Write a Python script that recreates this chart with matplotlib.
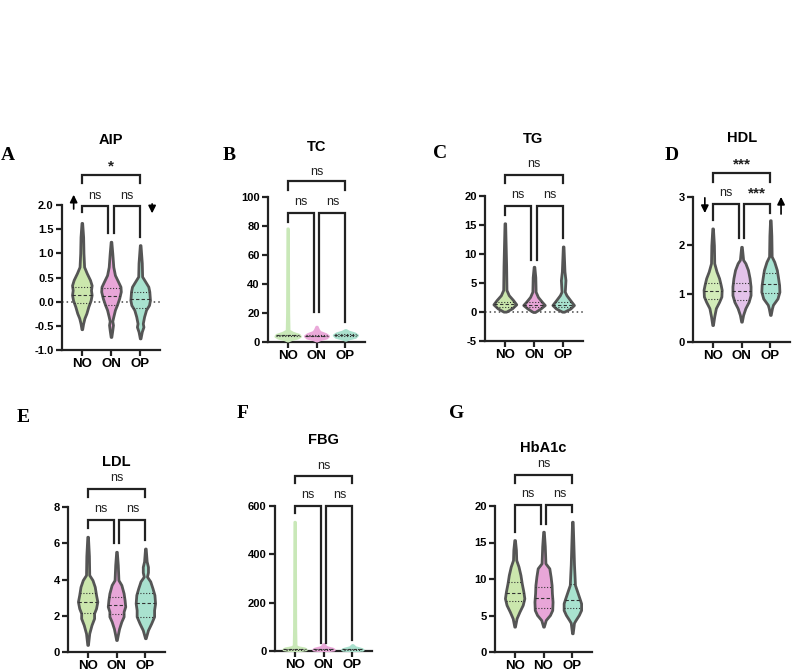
import numpy as np
import matplotlib
matplotlib.use("Agg")
import matplotlib.pyplot as plt

# -----------------------------
# Data
# -----------------------------
groups = ["NO", "ON", "OP"]
groups_hba1c = ["NO", "NO", "OP"]          # as printed in the original

# significance labels: NO-ON, ON-OP, NO-OP
sig_aip = ["ns", "ns", "*"]
sig_tc = ["ns", "ns", "ns"]
sig_tg = ["ns", "ns", "ns"]
sig_hdl = ["ns", "***", "***"]
sig_ldl = ["ns", "ns", "ns"]
sig_fbg = ["ns", "ns", "ns"]
sig_hba1c = ["ns", "ns", "ns"]

# violin outlines as (value, half width) pairs
aip_no = [(-0.57, 0.01), (-0.45, 0.04), (-0.34, 0.08), (-0.24, 0.14), (-0.10, 0.20), (0.03, 0.27),
          (0.14, 0.30), (0.24, 0.28), (0.34, 0.30), (0.45, 0.25), (0.59, 0.15), (0.72, 0.07),
          (1.00, 0.05), (1.34, 0.04), (1.63, 0.01)]
aip_on = [(-0.73, 0.01), (-0.59, 0.04), (-0.48, 0.06), (-0.40, 0.04), (-0.31, 0.07), (-0.17, 0.12),
          (-0.07, 0.18), (0.07, 0.25), (0.21, 0.30), (0.31, 0.29), (0.41, 0.22), (0.55, 0.12),
          (0.72, 0.07), (1.00, 0.04), (1.24, 0.01)]
aip_op = [(-0.76, 0.01), (-0.62, 0.05), (-0.52, 0.10), (-0.45, 0.08), (-0.31, 0.12), (-0.17, 0.18),
          (-0.07, 0.27), (0.03, 0.30), (0.21, 0.28), (0.31, 0.25), (0.41, 0.16), (0.52, 0.06),
          (0.80, 0.05), (1.17, 0.01)]
aip_quart = [(-0.03, 0.13, 0.31), (-0.07, 0.12, 0.28), (-0.14, 0.05, 0.19)]

tc_no = [(1.0, 0.01), (2.0, 0.12), (3.0, 0.30), (4.0, 0.38), (5.0, 0.35), (6.5, 0.15),
         (8.0, 0.03), (20.0, 0.02), (78.4, 0.01)]
tc_on = [(1.0, 0.01), (2.0, 0.12), (3.0, 0.30), (4.2, 0.36), (5.5, 0.28), (7.0, 0.10),
         (8.5, 0.05), (10.6, 0.01)]
tc_op = [(1.5, 0.01), (2.5, 0.12), (3.5, 0.30), (4.8, 0.36), (6.0, 0.28), (7.2, 0.10),
         (8.3, 0.01)]
tc_quart = [(3.9, 4.5, 5.1), (3.8, 4.4, 5.0), (4.2, 4.8, 5.4)]

tg_no = [(0.06, 0.04), (0.63, 0.22), (1.32, 0.35), (2.07, 0.25), (2.9, 0.12), (3.8, 0.05),
         (8.0, 0.04), (15.3, 0.01)]
tg_on = [(0.0, 0.03), (0.6, 0.20), (1.2, 0.33), (1.7, 0.25), (2.6, 0.12), (3.5, 0.05),
         (6.0, 0.04), (7.8, 0.01)]
tg_op = [(0.05, 0.03), (0.6, 0.22), (1.2, 0.33), (2.0, 0.22), (2.9, 0.10), (3.5, 0.05),
         (5.5, 0.07), (7.0, 0.04), (11.3, 0.01)]
tg_quart = [(0.9, 1.3, 1.8), (0.8, 1.2, 1.7), (0.8, 1.2, 1.8)]

hdl_no = [(0.35, 0.01), (0.53, 0.05), (0.70, 0.10), (0.83, 0.20), (0.94, 0.27), (1.08, 0.28),
          (1.18, 0.25), (1.32, 0.20), (1.46, 0.12), (1.63, 0.05), (2.00, 0.04), (2.35, 0.01)]
hdl_on = [(0.42, 0.01), (0.56, 0.05), (0.70, 0.12), (0.83, 0.22), (0.97, 0.28), (1.15, 0.28),
          (1.32, 0.25), (1.49, 0.20), (1.63, 0.12), (1.70, 0.05), (1.97, 0.01)]
hdl_op = [(0.56, 0.01), (0.70, 0.05), (0.77, 0.08), (0.90, 0.22), (1.04, 0.28), (1.18, 0.27),
          (1.32, 0.24), (1.49, 0.20), (1.66, 0.12), (1.77, 0.04), (2.20, 0.03), (2.52, 0.01)]
hdl_quart = [(0.88, 1.05, 1.22), (0.87, 1.06, 1.22), (1.02, 1.19, 1.42)]

ldl_no = [(0.39, 0.01), (1.03, 0.05), (1.49, 0.12), (1.86, 0.20), (2.14, 0.20), (2.41, 0.26),
          (2.78, 0.30), (3.15, 0.26), (3.60, 0.22), (3.97, 0.15), (4.25, 0.05), (5.3, 0.04),
          (6.36, 0.01)]
ldl_on = [(0.66, 0.01), (0.94, 0.04), (1.29, 0.08), (1.68, 0.15), (1.96, 0.22), (2.23, 0.22),
          (2.51, 0.27), (2.87, 0.25), (3.24, 0.22), (3.70, 0.15), (3.97, 0.06), (4.8, 0.04),
          (5.53, 0.01)]
ldl_op = [(0.76, 0.01), (1.21, 0.08), (1.58, 0.18), (1.96, 0.27), (2.32, 0.27), (2.69, 0.30),
          (3.15, 0.28), (3.52, 0.22), (3.90, 0.15), (4.16, 0.05), (4.40, 0.08), (4.70, 0.08),
          (5.0, 0.04), (5.71, 0.01)]
ldl_quart = [(2.14, 2.78, 3.27), (2.10, 2.59, 3.02), (1.92, 2.72, 3.24)]

fbg_no = [(0.5, 0.01), (3.0, 0.15), (7.0, 0.35), (11.0, 0.30), (16.0, 0.10), (22.0, 0.03),
          (100.0, 0.02), (535.0, 0.01)]
fbg_on = [(0.5, 0.01), (3.0, 0.15), (6.0, 0.32), (10.0, 0.28), (16.0, 0.10), (22.0, 0.04),
          (29.0, 0.01)]
fbg_op = [(0.5, 0.01), (3.0, 0.15), (6.0, 0.32), (10.0, 0.25), (16.0, 0.08), (25.0, 0.01)]
fbg_quart = [(5.5, 7.0, 9.0), (5.0, 6.5, 8.5), (5.0, 6.5, 8.5)]

hba1c_no = [(3.47, 0.01), (4.61, 0.06), (5.53, 0.15), (6.44, 0.25), (7.35, 0.30), (8.27, 0.27),
            (9.41, 0.22), (10.55, 0.18), (11.7, 0.12), (12.6, 0.05), (14.0, 0.04), (15.34, 0.01)]
hba1c_on = [(3.47, 0.01), (4.38, 0.07), (5.07, 0.20), (5.75, 0.27), (6.89, 0.28), (8.04, 0.26),
            (9.18, 0.25), (10.32, 0.22), (11.46, 0.18), (12.15, 0.06), (14.5, 0.04), (16.48, 0.01)]
hba1c_op = [(2.56, 0.01), (4.0, 0.05), (4.38, 0.10), (5.07, 0.20), (5.75, 0.27), (6.67, 0.27),
            (7.35, 0.22), (8.27, 0.15), (9.18, 0.08), (12.0, 0.05), (15.0, 0.03), (17.85, 0.01)]
hba1c_quart = [(6.99, 8.12, 9.63), (6.00, 7.45, 8.95), (5.98, 7.12, 9.25)]

# -----------------------------
# Style
# -----------------------------
W, H = 794, 671
DARK = "#222222"
OUTLINE = "#555555"
FILL = ["#cbe7ad", "#e8a6d8", "#a9e2cf"]
FILL_HDL = ["#d3ecb9", "#e4c3ea", "#a9e4d3"]
FILL_PALE = ["#c9e8b8", "#eaa9d9", "#a9e0cd"]   # TC / FBG: outline same as fill
WIDTH_SCALE = 1.12

plt.rcParams["font.family"] = ["Liberation Sans", "DejaVu Sans"]

fig = plt.figure(figsize=(W / 100, H / 100), dpi=100, facecolor="white")


def px_axes(l, r, t, b):
    return fig.add_axes([l / W, (H - b) / H, (r - l) / W, (b - t) / H])


def fig_text(x, y, s, **kw):
    fig.text(x / W, (H - y) / H, s, ha="center", va="center", **kw)


def draw_violin(ax, x, prof, quart, face, edge):
    ys = np.array([p[0] for p in prof])
    ws = np.array([p[1] for p in prof]) * WIDTH_SCALE
    ax.fill_betweenx(ys, x - ws, x + ws, facecolor=face,
                     edgecolor=edge, linewidth=2.0, joinstyle="round", zorder=3)
    for k, q in enumerate(quart):
        w = np.interp(q, ys, ws)
        ls = (0, (3, 2)) if k == 1 else (0, (1, 1.6))
        ax.plot([x - w, x + w], [q, q], color="#333333", lw=0.8, ls=ls, zorder=4)


def bracket(ax, x1, x2, y, leg1, leg2):
    ax.plot([x1, x1, x2, x2], [leg1, y, y, leg2], color=DARK, lw=1.6,
            clip_on=False, solid_joinstyle="miter", zorder=5)


panels = [
    dict(letter="A", title="AIP", box=(62, 160, 205, 350), ylim=(-1.0, 2.0), step=0.5, fmt="{:.1f}",
         prof=[aip_no, aip_on, aip_op], quart=aip_quart, sig=sig_aip, labels=groups,
         low=(1.98, 1.85, 1.42, 1.34, 2.19), top=(2.62, 2.45, 2.80), zero=True,
         fill=FILL, edge=None, letter_xy=(8, 155), title_xy=(111, 140)),
    dict(letter="B", title="TC", box=(268, 365, 197, 342), ylim=(0, 100), step=20, fmt="{:.0f}",
         prof=[tc_no, tc_on, tc_op], quart=tc_quart, sig=sig_tc, labels=groups,
         low=(88.8, 83, 21, 14, 96.7), top=(111, 105, 117.5), zero=False,
         fill=FILL_PALE, edge="same", letter_xy=(229, 155), title_xy=(317, 147)),
    dict(letter="C", title="TG", box=(485, 583, 196, 341), ylim=(-5, 20), step=5, fmt="{:.0f}",
         prof=[tg_no, tg_on, tg_op], quart=tg_quart, sig=sig_tg, labels=groups,
         low=(18.3, 16.7, 9.0, 12.7, 20.2), top=(23.6, 22.2, 25.5), zero=True,
         fill=FILL, edge=None, letter_xy=(440, 153), title_xy=(533, 139)),
    dict(letter="D", title="HDL", box=(693, 790, 197, 342), ylim=(0, 3), step=1, fmt="{:.0f}",
         prof=[hdl_no, hdl_on, hdl_op], quart=hdl_quart, sig=sig_hdl, labels=groups,
         low=(2.86, 2.52, 2.15, 2.66, 3.08), top=(3.50, 3.32, 3.68), zero=False,
         fill=FILL_HDL, edge=None, letter_xy=(672, 155), title_xy=(742, 138)),
    dict(letter="E", title="LDL", box=(68, 165, 507, 652), ylim=(0, 8), step=2, fmt="{:.0f}",
         prof=[ldl_no, ldl_on, ldl_op], quart=ldl_quart, sig=sig_ldl, labels=groups,
         low=(7.28, 6.82, 6.0, 6.18, 7.89), top=(8.99, 8.53, 9.58), zero=False,
         fill=FILL, edge=None, letter_xy=(23, 417), title_xy=(116, 462)),
    dict(letter="F", title="FBG", box=(275, 372, 506, 651), ylim=(0, 600), step=200, fmt="{:.0f}",
         prof=[fbg_no, fbg_on, fbg_op], quart=fbg_quart, sig=sig_fbg, labels=groups,
         low=(601, 570, 32, 45, 645), top=(724, 694, 765), zero=False,
         fill=FILL_PALE, edge="same", letter_xy=(243, 413), title_xy=(323, 440)),
    dict(letter="G", title="HbA1c", box=(495, 592, 506, 652), ylim=(0, 20), step=5, fmt="{:.0f}",
         prof=[hba1c_no, hba1c_on, hba1c_op], quart=hba1c_quart, sig=sig_hba1c, labels=groups_hba1c,
         low=(20.1, 16.5, 17.6, 19.2, 21.6), top=(24.25, 23.1, 25.75), zero=False,
         fill=FILL, edge=None, letter_xy=(457, 413), title_xy=(543, 448)),
]

axes = {}
for p in panels:
    ax = px_axes(*p["box"])
    axes[p["letter"]] = ax
    xs = np.arange(1, 4)

    for i, x in enumerate(xs):
        edge = p["fill"][i] if p["edge"] == "same" else OUTLINE
        draw_violin(ax, x, p["prof"][i], p["quart"][i], p["fill"][i], edge)

    if p["zero"]:
        ax.axhline(0, color="#444444", lw=1.1, ls=(0, (1, 2)), zorder=2)

    # axes styling (Prism look)
    y0, y1 = p["ylim"]
    ax.set_ylim(y0, y1)
    ax.set_xlim(0.32, 3.68)
    ticks = np.arange(y0, y1 + p["step"] / 2, p["step"])
    ax.set_yticks(ticks)
    ax.set_yticklabels([p["fmt"].format(t) for t in ticks], fontsize=8, fontweight="bold")
    ax.set_xticks(xs)
    ax.set_xticklabels(p["labels"], fontsize=9.5, fontweight="bold")
    for s in ["top", "right"]:
        ax.spines[s].set_visible(False)
    for s in ["left", "bottom"]:
        ax.spines[s].set_linewidth(1.6)
        ax.spines[s].set_color(DARK)
    ax.tick_params(axis="both", length=4, width=1.6, color=DARK, pad=2)
    ax.patch.set_alpha(0)

    # significance brackets
    low_y, leg_no, leg_on, leg_op, low_txt = p["low"]
    top_y, top_leg, top_txt = p["top"]
    bracket(ax, 1.0, 1.9, low_y, leg_no, leg_on)
    bracket(ax, 2.1, 3.0, low_y, leg_on, leg_op)
    bracket(ax, 1.0, 3.0, top_y, top_leg, top_leg)
    for (xa, xb), s in zip([(1.0, 1.9), (2.1, 3.0), (1.0, 3.0)], p["sig"]):
        ty = low_txt if xb - xa < 1.5 else top_txt
        bold = "*" in s
        ax.text((xa + xb) / 2, ty, s, ha="center", va="center",
                fontsize=11 if bold else 9, fontweight="bold" if bold else "normal",
                color=DARK, clip_on=False)

    fig_text(*p["letter_xy"], p["letter"], fontsize=14, fontweight="bold",
             family=["Liberation Serif", "DejaVu Serif"])
    fig_text(*p["title_xy"], p["title"], fontsize=10.5, fontweight="bold")

# direction arrows (AIP and HDL)
arrow = dict(arrowstyle="-|>", color="black", lw=1.2, mutation_scale=11)
axes["A"].annotate("", xy=(0.72, 2.27), xytext=(0.72, 1.86), arrowprops=arrow, annotation_clip=False)
axes["A"].annotate("", xy=(3.41, 1.77), xytext=(3.41, 2.08), arrowprops=arrow, annotation_clip=False)
axes["D"].annotate("", xy=(0.73, 2.61), xytext=(0.73, 3.04), arrowprops=arrow, annotation_clip=False)
axes["D"].annotate("", xy=(3.37, 3.06), xytext=(3.37, 2.59), arrowprops=arrow, annotation_clip=False)

fig.savefig("out.png", dpi=100, facecolor="white")
